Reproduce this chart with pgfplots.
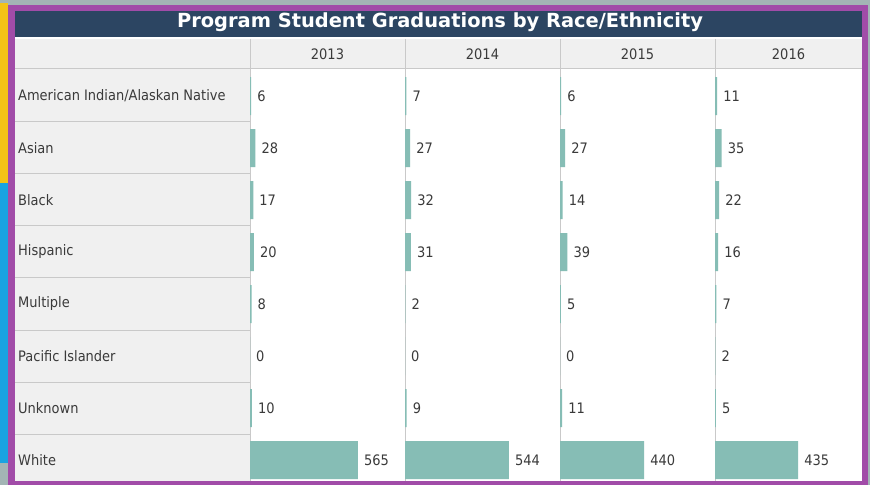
\documentclass[border=0pt]{standalone}
\usepackage{pgfplots}
\usepackage{pgfplotstable}
\pgfplotsset{compat=1.18}
\usepackage{fontspec}
\setmainfont{DejaVu Sans Condensed}[BoldFont={DejaVu Sans Condensed Bold}]
\newfontfamily\titlefont{DejaVu Sans}[BoldFont={DejaVu Sans Bold}]

\definecolor{bgstrip}{HTML}{A3B5B5}
\definecolor{edgeyellow}{HTML}{F3C316}
\definecolor{edgeblue}{HTML}{19A3E1}
\definecolor{framecol}{HTML}{A14CA8}
\definecolor{navy}{HTML}{2C4562}
\definecolor{cellgray}{HTML}{F0F0F0}
\definecolor{linecol}{HTML}{C9C9C9}
\definecolor{barcol}{HTML}{86BDB5}
\definecolor{txt}{HTML}{3A3A3A}

% graduations per year, rows in table order
\pgfplotstableread{
row y2013 y2014 y2015 y2016
0   6     7     6     11
1   28    27    27    35
2   17    32    14    22
3   20    31    39    16
4   8     2     5     7
5   0     0     0     2
6   10    9     11    5
7   565   544   440   435
}\grad

\newcommand{\lab}{\fontsize{14.5}{17}\selectfont}

\pgfplotsset{
  yearcol/.style={
    anchor=north west, scale only axis,
    height=416bp, width=155bp,
    xmin=0, xmax=811, ymin=-0.5, ymax=7.5, y dir=reverse,
    hide axis, clip=false,
    /pgf/number format/assume math mode=true,
    xbar, bar width=38bp, point meta=x,
    nodes near coords={\pgfmathprintnumber{\pgfplotspointmeta}},
    nodes near coords align={horizontal},
    every node near coord/.append style={inner sep=0pt, xshift=6bp,
      font=\lab, text=txt},
  },
}

\begin{document}
\begin{tikzpicture}[x=1bp, y=-1bp]
  \useasboundingbox (0,0) rectangle (870,485);
  % frame and background
  \fill[bgstrip] (0,0) rectangle (870,485);
  \fill[edgeyellow] (0,3) rectangle (8,183);
  \fill[edgeblue] (0,183) rectangle (8,463);
  \fill[framecol] (8,5) rectangle (868,485);
  \fill[white] (15,37) rectangle (862,481);
  \fill[navy] (15,11) rectangle (862,37);
  \fill[cellgray] (15,39) rectangle (862,68);
  \fill[cellgray] (15,68) rectangle (250,481);
  \draw[linecol, line width=1.2bp] (15,68.5) -- (862,68.5);
  \foreach \k in {1,...,7} {
    \draw[linecol, line width=1bp] (15,70+52*\k) -- (250,70+52*\k);
  }
  \foreach \xx in {250,405,560,715} {
    \draw[linecol, line width=1bp] (\xx,39) -- (\xx,481);
  }

  % title
  \node[text=white, font=\titlefont\bfseries\fontsize{19.5}{22}\selectfont] at (440,22.5) {Program Student Graduations by Race/Ethnicity};

  % column headers
  \foreach \yr [count=\i from 0] in {2013,2014,2015} {
    \node[text=txt, font=\lab] at (327.5+155*\i,54) {\yr};
  }
  \node[text=txt, font=\lab] at (788.5,54) {2016};

  % row labels
  \foreach \name [count=\i from 0] in {American Indian/Alaskan Native,Asian,Black,Hispanic,Multiple,Pacific Islander,Unknown,White} {
    \node[anchor=west, inner sep=0pt, text=txt, font=\lab] at (18,96+52*\i) {\name};
  }

  % one bar column per year
  \begin{axis}[yearcol, at={(250bp,-70bp)}]
    \addplot[fill=barcol, draw=none] table[x=y2013, y=row] {\grad};
  \end{axis}
  \begin{axis}[yearcol, at={(405bp,-70bp)}]
    \addplot[fill=barcol, draw=none] table[x=y2014, y=row] {\grad};
  \end{axis}
  \begin{axis}[yearcol, at={(560bp,-70bp)}]
    \addplot[fill=barcol, draw=none] table[x=y2015, y=row] {\grad};
  \end{axis}
  \begin{axis}[yearcol, at={(715bp,-70bp)}, width=147bp, xmax=769]
    \addplot[fill=barcol, draw=none] table[x=y2016, y=row] {\grad};
  \end{axis}

  % bottom frame edge over the last row
  \fill[framecol] (8,481) rectangle (868,485);
\end{tikzpicture}
\end{document}
